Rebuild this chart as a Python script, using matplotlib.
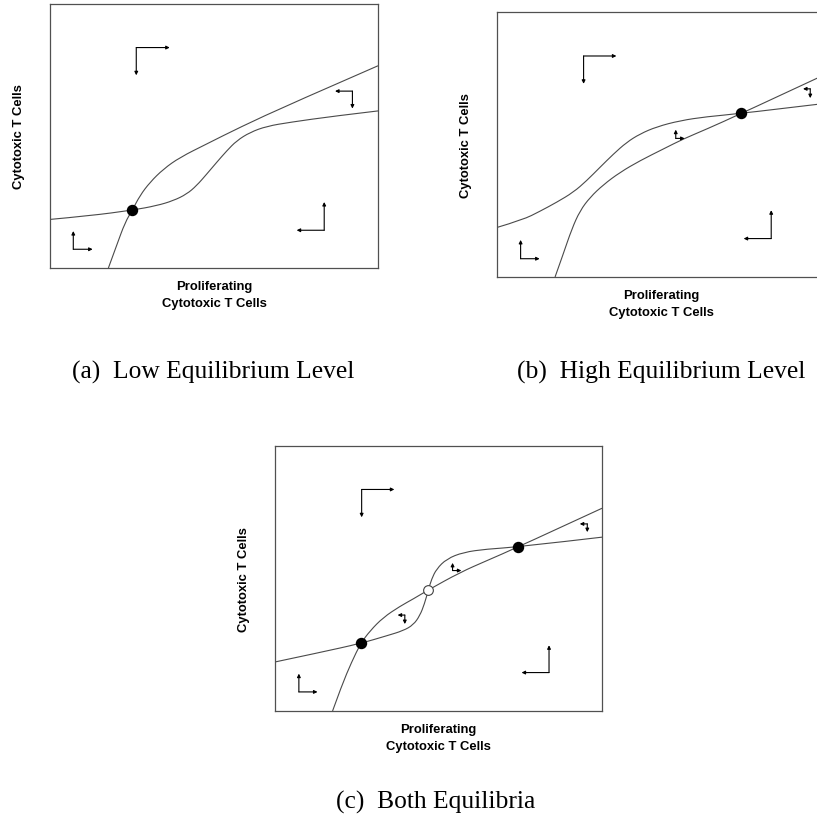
import matplotlib
matplotlib.use('Agg')
import matplotlib.pyplot as plt
from matplotlib.path import Path
from matplotlib.patches import PathPatch

# 相平面草图数据（坐标均为 0-1 的相对值）
# (a) 低平衡点
steep_a_x = [0.178, 0.203, 0.229, 0.251, 0.274, 0.305, 0.346, 0.396, 0.478, 0.579, 0.732, 1.0]
steep_a_y = [0.000, 0.085, 0.173, 0.219, 0.274, 0.325, 0.375, 0.419, 0.470, 0.533, 0.621, 0.766]
sig_a_x = [0.0, 0.122, 0.251, 0.325, 0.376, 0.417, 0.447, 0.478, 0.508, 0.539, 0.569, 0.610, 0.661, 0.732, 0.864, 1.0]
sig_a_y = [0.184, 0.198, 0.219, 0.236, 0.255, 0.280, 0.312, 0.356, 0.400, 0.444, 0.482, 0.514, 0.537, 0.552, 0.575, 0.595]
eq_a = [(0.251, 0.219, 'stable')]
# 方向箭头：拐点x, 拐点y, 水平箭头终点x, 竖直箭头终点y
arrows_a = [(0.263, 0.835, 0.365, 0.730),
            (0.922, 0.670, 0.869, 0.604),
            (0.836, 0.143, 0.752, 0.250),
            (0.071, 0.071, 0.130, 0.140)]

# (b) 高平衡点
steep_b_x = [0.177, 0.202, 0.228, 0.253, 0.284, 0.324, 0.375, 0.436, 0.507, 0.568, 0.639, 0.745, 1.0]
steep_b_y = [0.000, 0.087, 0.181, 0.250, 0.301, 0.348, 0.395, 0.439, 0.483, 0.521, 0.558, 0.617, 0.764]
sig_b_x = [0.0, 0.079, 0.131, 0.182, 0.233, 0.273, 0.314, 0.355, 0.395, 0.436, 0.487, 0.558, 0.639, 0.745, 1.0]
sig_b_y = [0.187, 0.216, 0.248, 0.282, 0.320, 0.363, 0.414, 0.464, 0.508, 0.540, 0.567, 0.590, 0.605, 0.617, 0.655]
eq_b = [(0.745, 0.617, 'stable')]
arrows_b = [(0.264, 0.834, 0.364, 0.729),
            (0.545, 0.523, 0.572, 0.556),
            (0.955, 0.710, 0.933, 0.675),
            (0.836, 0.145, 0.752, 0.252),
            (0.072, 0.069, 0.130, 0.140)]

# (c) 两个平衡点
steep_c_x = [0.176, 0.204, 0.234, 0.262, 0.291, 0.331, 0.382, 0.423, 0.469, 0.566, 0.647, 0.744, 1.0]
steep_c_y = [0.000, 0.096, 0.184, 0.255, 0.303, 0.353, 0.395, 0.423, 0.457, 0.523, 0.567, 0.619, 0.765]
sig_c_x = [0.0, 0.138, 0.262, 0.342, 0.392, 0.423, 0.443, 0.457, 0.469, 0.479, 0.494, 0.525, 0.576, 0.647, 0.744, 1.0]
sig_c_y = [0.185, 0.221, 0.255, 0.284, 0.303, 0.325, 0.360, 0.404, 0.457, 0.498, 0.536, 0.574, 0.599, 0.611, 0.619, 0.656]
eq_c = [(0.262, 0.255, 'stable'), (0.469, 0.457, 'unstable'), (0.744, 0.619, 'stable')]
arrows_c = [(0.265, 0.836, 0.365, 0.731),
            (0.397, 0.362, 0.375, 0.328),
            (0.543, 0.530, 0.570, 0.559),
            (0.955, 0.706, 0.932, 0.675),
            (0.838, 0.145, 0.754, 0.248),
            (0.073, 0.072, 0.130, 0.141)]

xlab = 'Proliferating'
xlab2 = 'Cytotoxic T Cells'
ylab = 'Cytotoxic T Cells'
captions = ['(a)  Low Equilibrium Level', '(b)  High Equilibrium Level', '(c)  Both Equilibria']

W, H = 817, 820
fig = plt.figure(figsize=(W / 100, H / 100), dpi=100)

sans = ['Liberation Sans', 'DejaVu Sans']
serif = ['Liberation Serif', 'DejaVu Serif']


def smooth_curve(ax, xs, ys):
    # 用二次贝塞尔曲线把读出来的点连成光滑曲线
    pts = list(zip(xs, ys))
    verts = [pts[0]]
    codes = [Path.MOVETO]
    for i in range(1, len(pts) - 1):
        if i < len(pts) - 2:
            end = ((pts[i][0] + pts[i + 1][0]) / 2, (pts[i][1] + pts[i + 1][1]) / 2)
        else:
            end = pts[i + 1]
        verts += [pts[i], end]
        codes += [Path.CURVE3, Path.CURVE3]
    ax.add_patch(PathPatch(Path(verts, codes), fill=False, edgecolor='#4a4a4a', lw=0.8))


def panel(rect_px, sx, sy, gx, gy, eqs, arrows):
    l, t, w, h = rect_px
    ax = fig.add_axes([l / W, 1 - (t + h) / H, w / W, h / H])
    ax.set_xlim(0, 1)
    ax.set_ylim(0, 1)
    ax.set_xticks([])
    ax.set_yticks([])
    for s in ax.spines.values():
        s.set_color('#505050')
        s.set_linewidth(0.9)
    smooth_curve(ax, sx, sy)
    smooth_curve(ax, gx, gy)
    for ex, ey, kind in eqs:
        if kind == 'stable':
            ax.plot(ex, ey, 'o', ms=7.2, color='black', zorder=5)
        else:
            ax.plot(ex, ey, 'o', ms=7.0, mfc='white', mec='#404040', mew=0.8, zorder=5)
    for cx, cy, hx, vy in arrows:
        ap = dict(arrowstyle='-|>', lw=0.8, color='black', mutation_scale=5,
                  shrinkA=0, shrinkB=0)
        ax.annotate('', xy=(hx, cy), xytext=(cx, cy), arrowprops=ap)
        ax.annotate('', xy=(cx, vy), xytext=(cx, cy), arrowprops=ap)
    # 坐标轴标签
    ax.text(0.5, -18 / h, xlab, transform=ax.transAxes, ha='center', va='center',
            fontsize=9.4, fontweight='bold', family=sans)
    ax.text(0.5, -35 / h, xlab2, transform=ax.transAxes, ha='center', va='center',
            fontsize=9.4, fontweight='bold', family=sans)
    ax.text(-31 / w, 0.5, ylab, transform=ax.transAxes, ha='center', va='center',
            rotation=90, fontsize=9.4, fontweight='bold', family=sans)
    return ax


panel((50, 5, 328, 264), steep_a_x, steep_a_y, sig_a_x, sig_a_y, eq_a, arrows_a)
panel((497, 13, 328, 265), steep_b_x, steep_b_y, sig_b_x, sig_b_y, eq_b, arrows_b)
panel((275, 447, 327, 265), steep_c_x, steep_c_y, sig_c_x, sig_c_y, eq_c, arrows_c)

fig.text(213 / W, 1 - 372 / H, captions[0], ha='center', va='center', fontsize=18.4, family=serif)
fig.text(661 / W, 1 - 372 / H, captions[1], ha='center', va='center', fontsize=18.4, family=serif)
fig.text(436 / W, 1 - 802 / H, captions[2], ha='center', va='center', fontsize=18.4, family=serif)

plt.savefig('out.png', dpi=100)
